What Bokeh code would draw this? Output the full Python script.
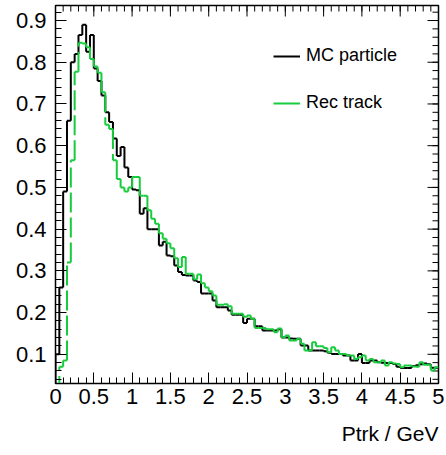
import numpy as np
from bokeh.plotting import figure
from bokeh.models import (Range1d, LinearAxis, FixedTicker, Legend, LegendItem,
                          Title, ColumnDataSource)
from bokeh.embed import file_html
from bokeh.resources import INLINE

# ---------------- data ----------------
x_lo, x_hi, n_bins = 0.0, 5.0, 100
y_lo, y_hi = 0.03, 0.936

mc_particle = [
    0.10, 0.26, 0.49, 0.66, 0.80, 0.82, 0.865, 0.89, 0.825, 0.865,
    0.785, 0.755, 0.72, 0.68, 0.657, 0.617, 0.575, 0.597, 0.548, 0.525,
    0.495, 0.493, 0.437, 0.45, 0.40, 0.40, 0.40, 0.361, 0.37, 0.337,
    0.335, 0.313, 0.297, 0.29, 0.289, 0.289, 0.277, 0.273, 0.246, 0.246,
    0.246, 0.229, 0.213, 0.213, 0.213, 0.205, 0.195, 0.195, 0.195, 0.175,
    0.185, 0.185, 0.167, 0.167, 0.157, 0.157, 0.157, 0.157, 0.16, 0.14,
    0.14, 0.138, 0.137, 0.137, 0.121, 0.121, 0.109, 0.109, 0.109, 0.109,
    0.107, 0.104, 0.101, 0.101, 0.101, 0.097, 0.097, 0.085, 0.085, 0.101,
    0.079, 0.079, 0.085, 0.085, 0.081, 0.080, 0.079, 0.079, 0.077, 0.070,
    0.067, 0.067, 0.067, 0.072, 0.074, 0.076, 0.078, 0.076, 0.068, 0.068,
]

rec_track = [
    0.0, 0.07, 0.085, 0.32, 0.565, 0.777, 0.847, 0.845, 0.836, 0.808,
    0.79, 0.775, 0.728, 0.65, 0.64, 0.565, 0.52, 0.50, 0.49, 0.50,
    0.525, 0.525, 0.48, 0.48, 0.445, 0.425, 0.413, 0.39, 0.377, 0.366,
    0.354, 0.33, 0.309, 0.333, 0.293, 0.293, 0.28, 0.291, 0.27, 0.26,
    0.251, 0.241, 0.219, 0.219, 0.22, 0.215, 0.197, 0.197, 0.197, 0.19,
    0.193, 0.185, 0.163, 0.163, 0.163, 0.16, 0.16, 0.153, 0.162, 0.14,
    0.145, 0.133, 0.133, 0.137, 0.125, 0.109, 0.109, 0.129, 0.119, 0.119,
    0.115, 0.105, 0.117, 0.109, 0.101, 0.101, 0.097, 0.097, 0.089, 0.093,
    0.097, 0.085, 0.089, 0.081, 0.081, 0.085, 0.073, 0.081, 0.078, 0.077,
    0.069, 0.073, 0.073, 0.071, 0.070, 0.081, 0.075, 0.075, 0.061, 0.069,
]

x_ticks = [0.0, 0.5, 1.0, 1.5, 2.0, 2.5, 3.0, 3.5, 4.0, 4.5, 5.0]
x_tick_labels = ["0", "0.5", "1", "1.5", "2", "2.5", "3", "3.5", "4", "4.5", "5"]
y_ticks = [0.1, 0.2, 0.3, 0.4, 0.5, 0.6, 0.7, 0.8, 0.9]
y_tick_labels = ["0.1", "0.2", "0.3", "0.4", "0.5", "0.6", "0.7", "0.8", "0.9"]
x_minor = [round(0.1 * i, 2) for i in range(51)]
y_minor = [round(0.02 * i, 2) for i in range(2, 47)]

series_names = ["MC particle", "Rec track"]
x_title = "Ptrk / GeV"

# ---------------- helpers ----------------
edges = np.linspace(x_lo, x_hi, n_bins + 1)


def step_segments(vals):
    x0, y0, x1, y1 = [], [], [], []
    prev = 0.0
    for i, v in enumerate(vals):
        x0.append(edges[i]); y0.append(prev); x1.append(edges[i]); y1.append(v)
        x0.append(edges[i]); y0.append(v); x1.append(edges[i + 1]); y1.append(v)
        prev = v
    return ColumnDataSource(dict(x0=x0, y0=y0, x1=x1, y1=y1))


FONT = "Liberation Sans"
GREEN = "#17cc3c"

p = figure(
    frame_width=383, frame_height=378,
    x_range=Range1d(x_lo, x_hi), y_range=Range1d(y_lo, y_hi),
    output_backend="svg", toolbar_location=None,
    x_axis_location=None, y_axis_location=None,
    min_border_left=55, min_border_right=6, min_border_top=5, min_border_bottom=66,
)
p.grid.visible = False
p.outline_line_color = "black"
p.outline_line_width = 1.5
p.background_fill_color = "white"
p.border_fill_color = "white"


def make_axis(minor, labels, ticks):
    ax = LinearAxis(ticker=FixedTicker(ticks=ticks, minor_ticks=minor))
    ax.major_tick_in = 11
    ax.major_tick_out = 0
    ax.minor_tick_in = 6
    ax.minor_tick_out = 0
    ax.major_tick_line_color = "black"
    ax.minor_tick_line_color = "black"
    ax.axis_line_color = "black"
    ax.major_label_overrides = {t: l for t, l in zip(ticks, labels)}
    ax.major_label_text_font = FONT
    ax.major_label_text_font_size = "22px"
    ax.major_label_text_color = "black"
    return ax


xb = make_axis(x_minor, x_tick_labels, x_ticks)
xb.major_label_standoff = 5
yl = make_axis(y_minor, y_tick_labels, y_ticks)
yl.major_label_standoff = 9
p.add_layout(xb, "below")
p.add_layout(yl, "left")

# ticks on the top and right frame edges (markers clipped to the frame)
p.scatter(x=x_ticks, y=[y_hi] * len(x_ticks), marker="dash", angle=np.pi / 2,
          size=22, line_color="black", line_width=1)
p.scatter(x=x_minor, y=[y_hi] * len(x_minor), marker="dash", angle=np.pi / 2,
          size=12, line_color="black", line_width=1)
p.scatter(x=[x_hi] * len(y_ticks), y=y_ticks, marker="dash",
          size=22, line_color="black", line_width=1)
p.scatter(x=[x_hi] * len(y_minor), y=y_minor, marker="dash",
          size=12, line_color="black", line_width=1)

# histograms
p.segment("x0", "y0", "x1", "y1", source=step_segments(mc_particle),
          line_color="black", line_width=2)
p.segment("x0", "y0", "x1", "y1", source=step_segments(rec_track),
          line_color=GREEN, line_width=2, line_dash="20 5")

# legend proxies (nothing drawn inside the plot)
proxy_mc = p.line(x=[np.nan, np.nan], y=[np.nan, np.nan], line_color="black", line_width=2)
proxy_rec = p.line(x=[np.nan, np.nan], y=[np.nan, np.nan], line_color=GREEN, line_width=2)

legend = Legend(
    items=[LegendItem(label=series_names[0], renderers=[proxy_mc]),
           LegendItem(label=series_names[1], renderers=[proxy_rec])],
    location=(218, 270), padding=0, margin=0, spacing=26,
    glyph_width=27, glyph_height=20, label_height=20, label_standoff=6,
    label_text_font=FONT, label_text_font_size="18px", label_text_color="black",
    border_line_alpha=0, background_fill_alpha=0,
)
p.add_layout(legend)

p.add_layout(Title(text=x_title, align="right", text_font=FONT,
                   text_font_size="21px", text_font_style="normal",
                   text_color="black", standoff=27), "below")

open("out.html", "w").write(file_html(p, INLINE))
